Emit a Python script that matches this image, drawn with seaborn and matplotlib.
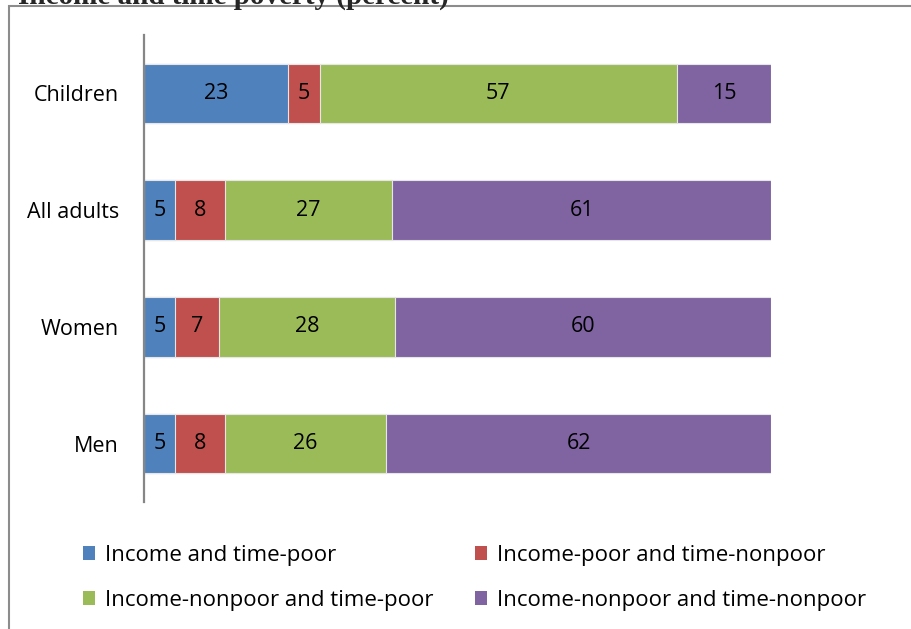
import matplotlib
matplotlib.use("Agg")
import matplotlib.pyplot as plt
from matplotlib.patches import Rectangle, Patch
import numpy as np
import pandas as pd
import seaborn as sns

# Groups (top to bottom) and the share in each income/time poverty class
groups = ["Children", "All adults", "Women", "Men"]
income_time_poor = [23, 5, 5, 5]
income_poor_time_nonpoor = [5, 8, 7, 8]
income_nonpoor_time_poor = [57, 27, 28, 26]
income_nonpoor_time_nonpoor = [15, 61, 60, 62]

series_names = [
    "Income and time-poor",
    "Income-poor and time-nonpoor",
    "Income-nonpoor and time-poor",
    "Income-nonpoor and time-nonpoor",
]
series_values = [
    income_time_poor,
    income_poor_time_nonpoor,
    income_nonpoor_time_poor,
    income_nonpoor_time_nonpoor,
]
colors = ["#4F81BD", "#C0504D", "#9BBB59", "#8064A2"]

title_text = "Income and time poverty (percent)"

sns.set_theme(style="white")
plt.rcParams["font.family"] = ["Open Sans", "DejaVu Sans"]

FS = 15.5

fig = plt.figure(figsize=(9.11, 6.29), dpi=100)
ax = fig.add_axes([144 / 911, 1 - 502 / 629, (771 - 144) / 911, (502 - 35) / 629])

vals = np.array(series_values, dtype=float)          # series x group
shares = vals / vals.sum(axis=0) * 100               # 100% stacked
cum = np.cumsum(shares, axis=0)
starts = cum - shares

# Draw cumulative totals from the outermost segment inward so each stack shows
for i in range(len(series_names) - 1, -1, -1):
    df = pd.DataFrame({"group": groups, "end": cum[i]})
    sns.barplot(data=df, y="group", x="end", orient="h", color=colors[i],
                saturation=1, width=0.51, edgecolor="#E6E6E6", linewidth=0.8,
                ax=ax, order=groups)

# Value labels centred on each segment
for i in range(len(series_names)):
    for j, g in enumerate(groups):
        ax.text(starts[i, j] + shares[i, j] / 2, j, f"{series_values[i][j]:g}",
                ha="center", va="center", fontsize=FS, color="black")

ax.set_xlim(0, 100)
ax.set_ylim(3.5, -0.5)
ax.set_xlabel("")
ax.set_ylabel("")
ax.set_xticks([])
ax.tick_params(axis="y", length=0, pad=18, labelsize=FS, labelcolor="black")
for s in ["top", "right", "bottom"]:
    ax.spines[s].set_visible(False)
ax.spines["left"].set_color("#868686")
ax.spines["left"].set_linewidth(1.6)

# Legend: two columns, filled row by row
order = [0, 2, 1, 3]
handles = [Patch(facecolor=colors[k], edgecolor="none") for k in order]
labels = [series_names[k] for k in order]
fig.legend(handles, labels, ncol=2, frameon=False, fontsize=16,
           labelcolor="black",
           loc="upper left", bbox_to_anchor=(74 / 911, 1 - 536 / 629),
           handlelength=0.55, handleheight=0.55, handletextpad=0.45,
           labelspacing=1.08, columnspacing=1.85, borderaxespad=0)

# Chart-area frame
frame = Rectangle((9 / 911, -0.05), 1.2, 1 - 6 / 629 + 0.05,
                  transform=fig.transFigure, fill=False,
                  edgecolor="#8C8C8C", linewidth=1.5, zorder=0)
fig.patches.append(frame)

# Figure heading above the chart area
fig.text(449 / 911, 1 - 3.5 / 629, title_text, ha="right", va="baseline",
         fontsize=21, fontweight="bold", family="Liberation Serif")

fig.savefig("out.png", dpi=100)
